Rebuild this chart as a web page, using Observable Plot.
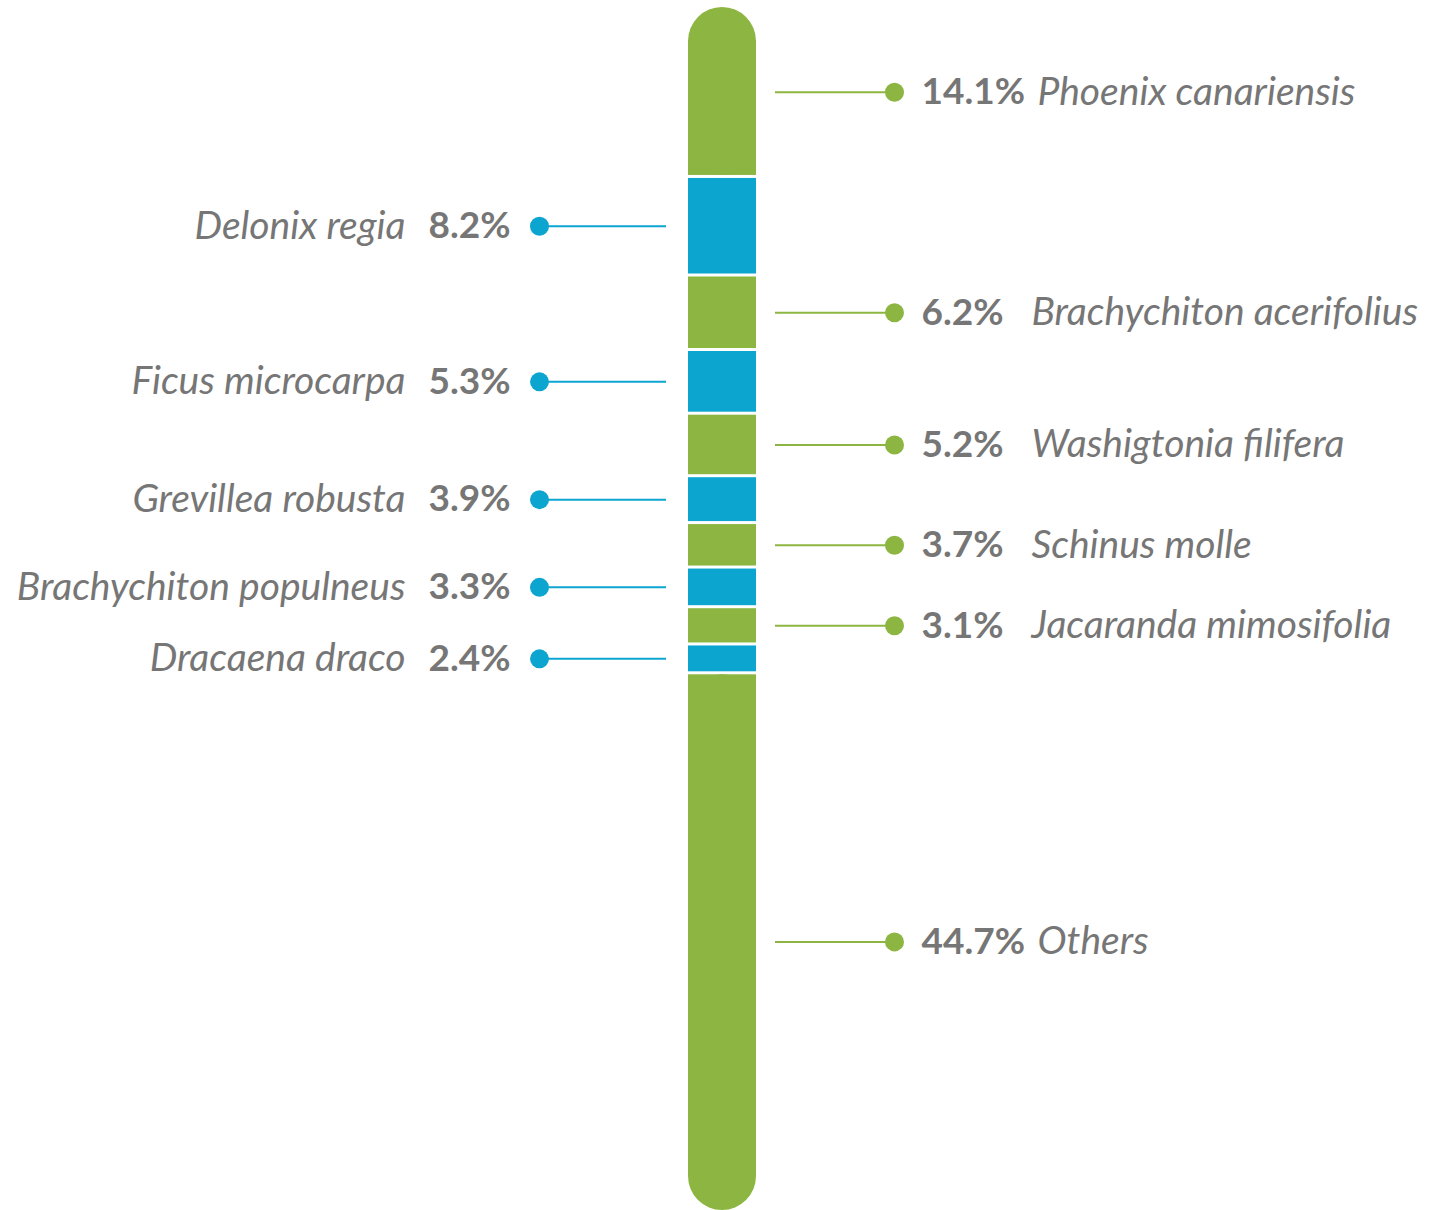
<!DOCTYPE html>
<html>
<head>
<meta charset="utf-8">
<script src="https://cdn.jsdelivr.net/npm/d3@7"></script>
<script src="https://cdn.jsdelivr.net/npm/@observablehq/plot@0.6"></script>
<style>
  html, body { margin: 0; padding: 0; background: #fff; }
  #chart svg { display: block; }
</style>
</head>
<body>
<div id="chart"></div>
<script>
// Data (top to bottom in the bar)
const species = [
  "Phoenix canariensis", "Delonix regia", "Brachychiton acerifolius", "Ficus microcarpa",
  "Washigtonia filifera", "Grevillea robusta", "Schinus molle", "Brachychiton populneus",
  "Jacaranda mimosifolia", "Dracaena draco", "Others"
];
const shares = [14.1, 8.2, 6.2, 5.3, 5.2, 3.9, 3.7, 3.3, 3.1, 2.4, 44.7];
const groups = ["green", "blue", "green", "blue", "green", "blue", "green", "blue", "green", "blue", "green"];

const palette = {green: "#8cb641", blue: "#0ca5d0"};
const textColor = "#767676";

// Build stacked table
const ends = d3.cumsum(shares);
const segs = species.map((name, i) => ({
  name, share: shares[i], group: groups[i],
  y1: i === 0 ? 0 : ends[i - 1], y2: ends[i],
  mid: ((i === 0 ? 0 : ends[i - 1]) + ends[i]) / 2,
  first: i === 0, last: i === species.length - 1
}));
const total = ends[ends.length - 1];
const right = segs.filter(d => d.group === "green");
const left = segs.filter(d => d.group === "blue");

// layout (pixels along the horizontal layout scale)
const barL = 688, barR = 756, capR = 34;

const capTop = segs.filter(d => d.first);
const capBot = segs.filter(d => d.last);

const chart = Plot.plot({
  width: 1433,
  height: 1210,
  margin: 0,
  x: {type: "identity", axis: null},
  y: {domain: [0, total], range: [7, 1210], axis: null},
  color: {type: "identity"},
  style: {fontFamily: "Lato, 'Open Sans', sans-serif", background: "#fff"},
  marks: [
    // square middle segments
    Plot.rect(segs.filter(d => !d.first && !d.last), {
      x1: barL, x2: barR, y1: "y1", y2: "y2",
      fill: d => palette[d.group], insetTop: 1.5, insetBottom: 1.5
    }),
    // rounded end caps
    Plot.rect(capTop, {
      x1: barL, x2: barR, y1: "y1", y2: "y2",
      fill: d => palette[d.group], rx: capR, insetBottom: 1.5
    }),
    Plot.rect(capBot, {
      x1: barL, x2: barR, y1: "y1", y2: "y2",
      fill: d => palette[d.group], rx: capR, insetTop: 1.5
    }),
    // square off the inner ends of the caps
    Plot.rect(capTop, {
      x1: barL, x2: barR, y1: "mid", y2: "y2",
      fill: d => palette[d.group], insetBottom: 1.5
    }),
    Plot.rect(capBot, {
      x1: barL, x2: barR, y1: "y1", y2: "mid",
      fill: d => palette[d.group], insetTop: 1.5
    }),
    // right leaders
    Plot.ruleY(right, {y: "mid", x1: 775, x2: 894, stroke: d => palette[d.group], strokeWidth: 2}),
    Plot.dot(right, {x: 894, y: "mid", r: 9.5, fill: d => palette[d.group], stroke: null}),
    Plot.text(right, {
      x: 921, y: "mid", text: d => d.share.toFixed(1) + "%",
      textAnchor: "start", fontSize: 37, fontWeight: 700, fill: textColor
    }),
    Plot.text(right, {
      x: d => (d.share >= 10 ? 1037 : 1031), y: "mid", text: "name",
      textAnchor: "start", fontSize: 39, fontStyle: "italic", fill: textColor
    }),
    // left leaders
    Plot.ruleY(left, {y: "mid", x1: 539, x2: 666, stroke: d => palette[d.group], strokeWidth: 2}),
    Plot.dot(left, {x: 539, y: "mid", r: 9.5, fill: d => palette[d.group], stroke: null}),
    Plot.text(left, {
      x: 510, y: "mid", text: d => d.share.toFixed(1) + "%",
      textAnchor: "end", fontSize: 37, fontWeight: 700, fill: textColor
    }),
    Plot.text(left, {
      x: 405, y: "mid", text: "name",
      textAnchor: "end", fontSize: 39, fontStyle: "italic", fill: textColor
    })
  ]
});
document.getElementById("chart").append(chart);
</script>
</body>
</html>
